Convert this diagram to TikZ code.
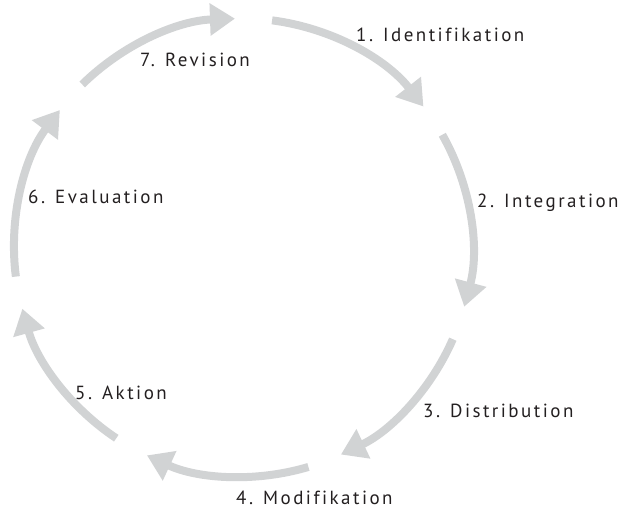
\documentclass[tikz,border=0pt]{standalone}
\usepackage{fontspec}
\usetikzlibrary{arrows.meta}
\newfontfamily\labelfont{PT Sans}[LetterSpace=13, Ligatures=CommonOff]
\definecolor{arrowgray}{RGB}{209,211,212}
\definecolor{textgray}{RGB}{35,31,32}
\tikzset{
  cyclearrow/.style={arrowgray, line width=8pt, -{Triangle[length=25pt, width=31pt]}},
  steplabel/.style={textgray, anchor=base west, inner sep=0pt, font=\labelfont\fontsize{19}{23}\selectfont}
}
\begin{document}
\begin{tikzpicture}[x=1pt, y=1pt]
\useasboundingbox (-243,-263.5) rectangle (379,247.5);

\draw[cyclearrow] (82.7:229) arc[start angle=82.7, end angle=38, radius=229];
\node[steplabel] (identifikation) at (113, 205.5) {1. Identifikation};

\draw[cyclearrow] (29.5:229) arc[start angle=29.5, end angle=-15, radius=229];
\node[steplabel] (integration) at (234, 39.5) {2. Integration};

\draw[cyclearrow] (-23.6:229) arc[start angle=-23.6, end angle=-64.7, radius=229];
\node[steplabel] (distribution) at (180, -170.5) {3. Distribution};

\draw[cyclearrow] (-73.4:229) arc[start angle=-73.4, end angle=-114.8, radius=229];
\node[steplabel] (modifikation) at (-7, -257) {4. Modifikation};

\draw[cyclearrow] (-123.6:229) arc[start angle=-123.6, end angle=-164.5, radius=229];
\node[steplabel] (aktion) at (-168, -152.5) {5. Aktion};

\draw[cyclearrow] (-172.7:229) arc[start angle=-172.7, end angle=-216.9, radius=229];
\node[steplabel] (evaluation) at (-215, 43.5) {6. Evaluation};

\draw[cyclearrow] (134.6:229) arc[start angle=134.6, end angle=92, radius=229];
\node[steplabel] (revision) at (-103, 180.5) {7. Revision};

\end{tikzpicture}
\end{document}
